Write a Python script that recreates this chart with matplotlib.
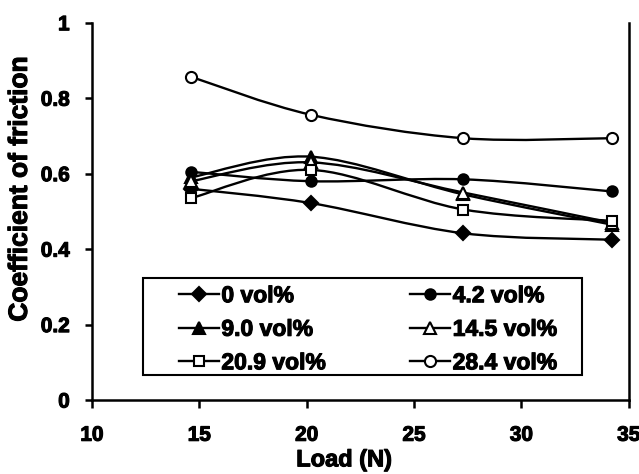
import matplotlib
matplotlib.use("Agg")
import matplotlib.pyplot as plt
from matplotlib.path import Path
from matplotlib.patches import PathPatch, Rectangle
from matplotlib.lines import Line2D
import matplotlib.patheffects as pe
import numpy as np

plt.rcParams['font.family'] = ['Liberation Sans', 'DejaVu Sans']
plt.rcParams['font.weight'] = 'bold'

load = [14.6, 20.2, 27.3, 34.2]
labels = ['0 vol%', '4.2 vol%', '9.0 vol%', '14.5 vol%', '20.9 vol%', '28.4 vol%']
cof_0 = [0.560, 0.522, 0.442, 0.425]
cof_42 = [0.605, 0.580, 0.585, 0.553]
cof_90 = [0.590, 0.645, 0.545, 0.465]
cof_145 = [0.580, 0.630, 0.550, 0.470]
cof_209 = [0.535, 0.610, 0.505, 0.475]
cof_284 = [0.857, 0.756, 0.694, 0.694]

series = [cof_0, cof_42, cof_90, cof_145, cof_209, cof_284]
markers = ['D', 'o', '^', '^', 's', 'o']
fills = ['black', 'black', 'black', 'white', 'white', 'white']
msizes = [7.5, 7.5, 8.5, 8.5, 7, 8]

stroke = [pe.withStroke(linewidth=0.8, foreground='black')]

fig = plt.figure(figsize=(6.39, 4.74), dpi=100)
ax = fig.add_axes([0.144, 0.156, 0.840, 0.796])


def smooth_path(xs, ys):
    pts = np.column_stack([xs, ys])
    n = len(pts)
    verts = [pts[0]]
    codes = [Path.MOVETO]
    for i in range(n - 1):
        p0 = pts[i - 1] if i > 0 else pts[i]
        p1 = pts[i]
        p2 = pts[i + 1]
        p3 = pts[i + 2] if i + 2 < n else pts[i + 1]
        c1 = p1 + (p2 - p0) / 6.0
        c2 = p2 - (p3 - p1) / 6.0
        verts += [c1, c2, p2]
        codes += [Path.CURVE4] * 3
    return Path(verts, codes)


handles = []
for ys, m, fc, ms, lab in zip(series, markers, fills, msizes, labels):
    patch = PathPatch(smooth_path(load, ys), facecolor='none', edgecolor='black',
                      lw=1.7, transform=ax.transData, zorder=2)
    ax.add_patch(patch)
    ax.plot(load, ys, linestyle='none', marker=m, markersize=ms,
            markerfacecolor=fc, markeredgecolor='black', markeredgewidth=1.5, zorder=3)
    handles.append(Line2D([], [], color='black', lw=1.7, marker=m, markersize=ms,
                          markerfacecolor=fc, markeredgecolor='black',
                          markeredgewidth=1.5, label=lab))

ax.set_xlim(10, 35)
ax.set_ylim(0, 1)
ax.set_xticks([10, 15, 20, 25, 30, 35])
ax.set_yticks([0, 0.2, 0.4, 0.6, 0.8, 1.0])
ax.set_yticklabels(['0', '0.2', '0.4', '0.6', '0.8', '1'])

for s in ['left', 'bottom', 'right']:
    ax.spines[s].set_linewidth(1.8)
ax.spines['top'].set_visible(False)
ax.tick_params(axis='both', direction='out', width=1.8, labelsize=15)
ax.tick_params(axis='x', length=5.5, pad=13)
ax.tick_params(axis='y', length=5, pad=11)
for t in ax.get_xticklabels() + ax.get_yticklabels():
    t.set_fontweight('bold')
    t.set_path_effects(stroke)

xl = ax.set_xlabel('Load (N)', fontsize=17, fontweight='bold', labelpad=0)
ax.xaxis.set_label_coords(0.47, -0.128)
xl.set_path_effects(stroke)
yl = ax.set_ylabel('Coefficient of friction', fontsize=19, fontweight='bold')
ax.yaxis.set_label_coords(-0.112, 0.56)
yl.set_path_effects(stroke)

# legend frame
ax.add_patch(Rectangle((0.095, 0.066), 0.8175, 0.257, transform=ax.transAxes,
                       facecolor='white', edgecolor='black', lw=1.5, zorder=4))

order = [0, 2, 4, 1, 3, 5]
leg = ax.legend([handles[i] for i in order], [labels[i] for i in order],
                ncol=2, loc='upper left', bbox_to_anchor=(0.162, 0.307),
                frameon=False, prop={'size': 16.5, 'weight': 'bold'},
                handlelength=1.75, handletextpad=0.1, labelspacing=0.46,
                borderpad=0, borderaxespad=0, columnspacing=3.7)
leg.set_zorder(5)
for t in leg.get_texts():
    t.set_path_effects(stroke)

fig.savefig('out.png', dpi=100)
